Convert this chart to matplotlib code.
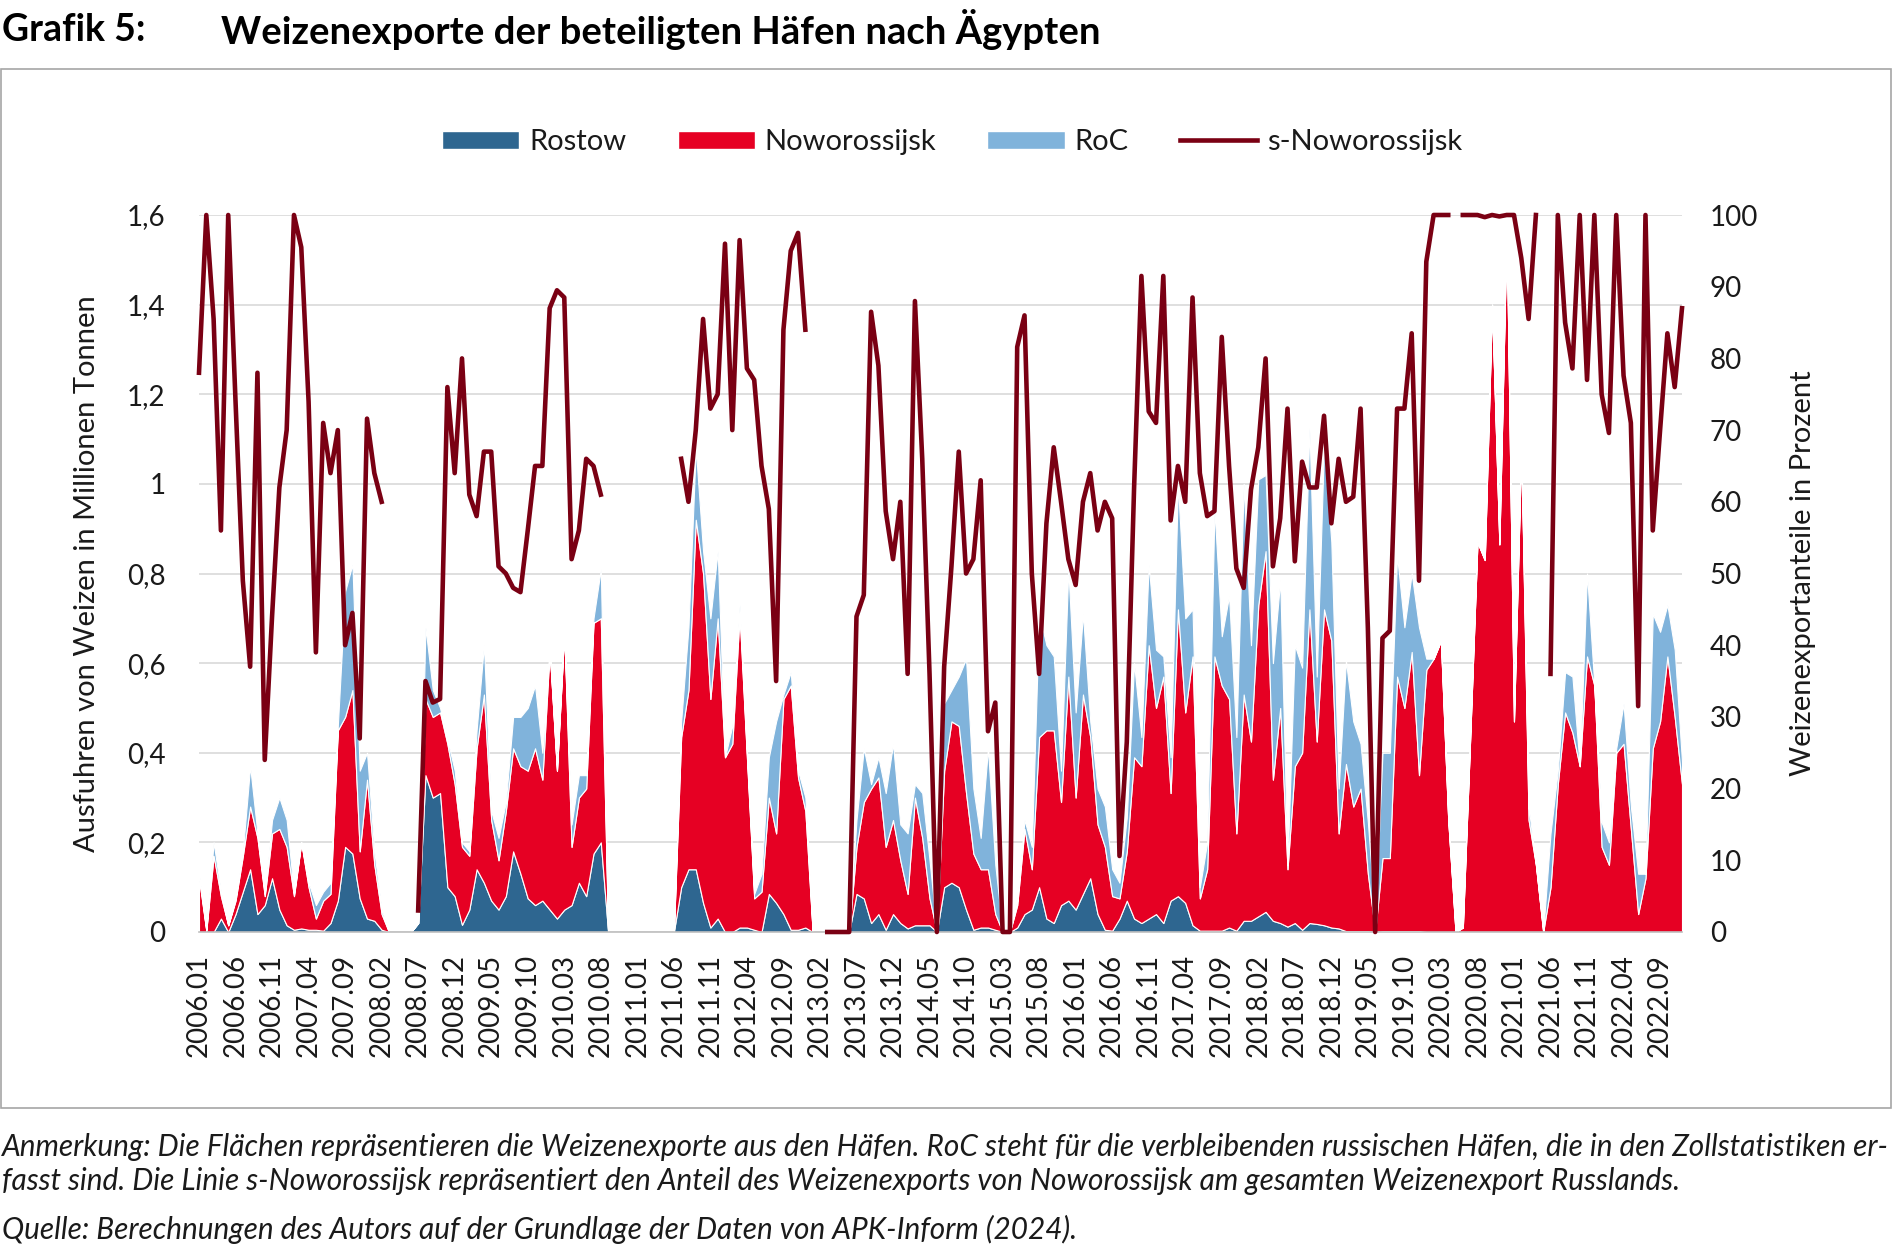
import numpy as np
import matplotlib
matplotlib.use("Agg")
import matplotlib.pyplot as plt
from matplotlib.patches import Patch, Rectangle
from matplotlib.lines import Line2D

nan = np.nan

# monthly values 2006.01 - 2022.12, one row per year (Mio. t)
rostow = [
    0, 0, 0, 0.03, 0, 0.04, 0.09, 0.14, 0.04, 0.06, 0.12, 0.05,
    0.015, 0.005, 0.008, 0.005, 0.005, 0.003, 0.02, 0.07, 0.19, 0.175, 0.075, 0.03,
    0.025, 0.005, 0, 0, 0, 0, 0.02, 0.35, 0.30, 0.31, 0.10, 0.08,
    0.016, 0.05, 0.14, 0.11, 0.07, 0.05, 0.08, 0.18, 0.13, 0.075, 0.06, 0.07,
    0.05, 0.03, 0.05, 0.06, 0.11, 0.08, 0.175, 0.20, 0, 0, 0, 0,
    0, 0, 0, 0, 0, 0, 0.10, 0.14, 0.14, 0.065, 0.01, 0.03,
    0, 0, 0.01, 0.01, 0.005, 0, 0.085, 0.065, 0.04, 0.005, 0.005, 0.01,
    0, 0, 0, 0.003, 0, 0, 0.085, 0.075, 0.02, 0.04, 0.005, 0.04,
    0.02, 0.008, 0.015, 0.015, 0.015, 0, 0.10, 0.11, 0.10, 0.05, 0.005, 0.01,
    0.01, 0.005, 0, 0, 0.01, 0.04, 0.05, 0.10, 0.03, 0.02, 0.06, 0.07,
    0.05, 0.085, 0.12, 0.04, 0.005, 0.003, 0.03, 0.07, 0.03, 0.02, 0.03, 0.04,
    0.02, 0.07, 0.08, 0.065, 0.015, 0.003, 0.003, 0.003, 0.003, 0.01, 0.003, 0.025,
    0.025, 0.035, 0.045, 0.025, 0.02, 0.012, 0.02, 0.005, 0.02, 0.018, 0.015, 0.01,
    0.008, 0.002, 0.002, 0.002, 0.002, 0, 0.002, 0.002, 0.002, 0.002, 0.002, 0.002,
    0, 0, 0, 0, 0, 0, 0, 0, 0, 0, 0, 0,
    0, 0, 0, 0, 0, 0, 0, 0, 0, 0, 0, 0,
    0, 0, 0, 0, 0, 0, 0, 0, 0, 0, 0, 0,
]

noworossijsk = [
    0.12, 0.003, 0.17, 0.05, 0.015, 0.03, 0.08, 0.14, 0.17, 0.02, 0.10, 0.18,
    0.175, 0.075, 0.192, 0.095, 0.025, 0.067, 0.065, 0.38, 0.29, 0.365, 0.105, 0.31,
    0.125, 0.035, 0, 0, 0, 0, 0, 0.17, 0.18, 0.18, 0.32, 0.25,
    0.174, 0.12, 0.27, 0.42, 0.18, 0.11, 0.19, 0.23, 0.24, 0.285, 0.35, 0.27,
    0.58, 0.33, 0.62, 0.13, 0.19, 0.24, 0.515, 0.50, 0, 0, 0, 0,
    0, 0, 0, 0, 0, 0, 0.335, 0.40, 0.78, 0.735, 0.51, 0.67,
    0.39, 0.42, 0.70, 0.38, 0.07, 0.09, 0.215, 0.155, 0.48, 0.545, 0.34, 0.26,
    0, 0, 0, 0, 0, 0, 0.105, 0.215, 0.30, 0.305, 0.185, 0.21,
    0.14, 0.077, 0.285, 0.195, 0.06, 0, 0.26, 0.36, 0.36, 0.26, 0.17, 0.13,
    0.13, 0.035, 0, 0, 0.05, 0.19, 0.09, 0.335, 0.42, 0.43, 0.23, 0.50,
    0.25, 0.445, 0.315, 0.20, 0.185, 0.077, 0.045, 0.11, 0.36, 0.35, 0.61, 0.46,
    0.55, 0.24, 0.64, 0.425, 0.60, 0.072, 0.137, 0.612, 0.547, 0.51, 0.217, 0.505,
    0.40, 0.695, 0.805, 0.315, 0.48, 0.128, 0.35, 0.395, 0.70, 0.407, 0.705, 0.64,
    0.212, 0.373, 0.278, 0.318, 0.128, 0, 0.163, 0.163, 0.568, 0.498, 0.623, 0.348,
    0.585, 0.61, 0.65, 0.25, 0, 0.01, 0.43, 0.87, 0.83, 1.40, 0.865, 1.57,
    0.47, 1.08, 0.25, 0.15, 0, 0.10, 0.33, 0.49, 0.445, 0.37, 0.615, 0.55,
    0.19, 0.15, 0.40, 0.42, 0.23, 0.04, 0.12, 0.41, 0.47, 0.615, 0.48, 0.33,
]

roc = [
    0.01, 0, 0.03, 0.01, 0, 0.005, 0.01, 0.09, 0.01, 0.005, 0.03, 0.07,
    0.06, 0.005, 0, 0.01, 0.03, 0.02, 0.025, 0.01, 0.28, 0.28, 0.18, 0.06,
    0.03, 0.01, 0, 0, 0, 0, 0, 0.16, 0.06, 0.01, 0.01, 0.03,
    0.01, 0.01, 0.04, 0.11, 0.02, 0.05, 0.02, 0.07, 0.11, 0.14, 0.14, 0.06,
    0, 0, 0, 0.05, 0.05, 0.03, 0.01, 0.11, 0, 0, 0, 0,
    0, 0, 0, 0, 0, 0, 0.035, 0.14, 0.16, 0.05, 0.18, 0.15,
    0, 0.04, 0.02, 0.01, 0.01, 0.04, 0.09, 0.25, 0.01, 0.03, 0.015, 0.03,
    0, 0, 0, 0, 0, 0, 0.06, 0.12, 0.01, 0.045, 0.12, 0.17,
    0.08, 0.135, 0.03, 0.10, 0.085, 0, 0.15, 0.07, 0.11, 0.30, 0.145, 0.07,
    0.27, 0.11, 0, 0, 0.01, 0.02, 0.05, 0.275, 0.19, 0.165, 0.07, 0.24,
    0.19, 0.18, 0.035, 0.08, 0.09, 0.06, 0.035, 0.075, 0.21, 0.065, 0.18, 0.13,
    0.045, 0.08, 0.28, 0.21, 0.105, 0.025, 0.06, 0.33, 0.11, 0.23, 0.215, 0.47,
    0.215, 0.28, 0.17, 0.26, 0.285, 0.01, 0.27, 0.19, 0.405, 0.145, 0.37, 0.22,
    0.10, 0.23, 0.19, 0.10, 0.115, 0.03, 0.235, 0.235, 0.27, 0.18, 0.175, 0.33,
    0.025, 0, 0, 0, 0, 0, 0, 0, 0, 0, 0, 0,
    0, 0, 0.03, 0, 0, 0.12, 0.03, 0.09, 0.125, 0, 0.185, 0,
    0.055, 0.05, 0.01, 0.09, 0.05, 0.09, 0.01, 0.30, 0.20, 0.115, 0.15, 0.05,
]

# share of Noworossijsk in total Russian wheat exports (%)
s_noworossijsk = [
    78, 100, 85.5, 56, 100, 74, 49, 37, 78, 24, 44, 62,
    70, 100, 95.5, 74, 39, 71, 64, 70, 40, 44.5, 27, 71.6,
    64, 60, nan, nan, nan, nan, 3, 35, 32, 32.5, 76, 64,
    80, 61, 58, 67, 67, 51, 50, 48, 47.4, 56, 65, 65,
    87, 89.5, 88.5, 52, 56, 66, 65, 61, nan, nan, nan, nan,
    nan, nan, nan, nan, nan, nan, 66, 60, 70, 85.5, 73, 75,
    96, 70, 96.5, 78.6, 77, 65, 59, 35, 84, 95, 97.5, 84,
    nan, nan, 0, 0, 0, 0, 44, 47, 86.5, 79, 58.7, 52,
    60, 36, 88, 66, 36, 0, 37, 51, 67, 50, 52, 63,
    28, 32, 0, 0, 81.6, 86, 50, 36, 57, 67.6, 60, 52,
    48.4, 60, 64, 56, 60, 57.7, 10.6, 26.5, 62, 91.5, 72.6, 71,
    91.5, 57.4, 65, 60, 88.5, 64, 58, 58.7, 83, 65, 50.7, 48,
    61.7, 67.6, 80, 51, 57.7, 73, 51.7, 65.6, 62, 62, 72, 57,
    66, 60, 60.7, 73, 42.4, 0, 41, 42, 73, 73, 83.5, 49,
    93.5, 100, 100, 100, nan, 100, 100, 100, 99.7, 100, 99.8, 100,
    100, 94, 85.5, 100, nan, 36, 100, 85, 78.6, 100, 77, 100,
    75, 69.6, 100, 77.6, 71, 31.5, 100, 56, 70, 83.5, 76, 87,
]

months = [f"{y}.{m:02d}" for y in range(2006, 2023) for m in range(1, 13)]

C_ROSTOW = "#2E6690"
C_NOWO = "#E60023"
C_ROC = "#80B3DB"
C_LINE = "#7A0013"
TXT = "#1A1A1A"

plt.rcParams['font.family'] = ['Lato', 'DejaVu Sans']

W, H = 1893, 1251
fig = plt.figure(figsize=(W / 100, H / 100), dpi=100)

left, right, top, bottom = 199, 1682, 215, 932
ax = fig.add_axes([left / W, 1 - bottom / H, (right - left) / W, (bottom - top) / H])

x = np.arange(len(months))
ax.stackplot(x, rostow, noworossijsk, roc, colors=[C_ROSTOW, C_NOWO, C_ROC],
             edgecolor="white", linewidth=0.8)
ax.set_xlim(0, len(months) - 1)
ax.set_ylim(0, 1.6)
yt = np.arange(0, 1.61, 0.2)
ax.set_yticks(yt)
ax.set_yticklabels([f"{v:g}".replace(".", ",") for v in np.round(yt, 1)])
ax.grid(axis="y", color="#D9D9D9", lw=1.2)
ax.set_axisbelow(True)
ax.set_xticks(x[::5])
ax.set_xticklabels(months[::5], rotation=90)
ax.tick_params(axis="x", length=0, pad=16, labelsize=20, labelcolor=TXT)
ax.tick_params(axis="y", length=0, pad=24, labelsize=20, labelcolor=TXT)
for s in ("top", "left", "right"):
    ax.spines[s].set_visible(False)
ax.spines["bottom"].set_color("#BFBFBF")
ax.spines["bottom"].set_linewidth(1.2)
ax.set_ylabel("Ausfuhren von Weizen in Millionen Tonnen", fontsize=21, color=TXT)
ax.yaxis.set_label_coords(-0.0668, 0.5)

ax2 = ax.twinx()
ax2.plot(x, s_noworossijsk, color=C_LINE, lw=3.3, clip_on=False)
ax2.set_ylim(0, 100)
ax2.set_yticks(np.arange(0, 101, 10))
ax2.tick_params(axis="y", length=0, pad=20, labelsize=20, labelcolor=TXT)
for s in ("top", "left", "right", "bottom"):
    ax2.spines[s].set_visible(False)
ax2.set_ylabel("Weizenexportanteile in Prozent", fontsize=21, color=TXT)
ax2.yaxis.set_label_coords(1.0728, 0.5)

handles = [Patch(facecolor=C_ROSTOW, edgecolor="white"),
           Patch(facecolor=C_NOWO, edgecolor="white"),
           Patch(facecolor=C_ROC, edgecolor="white"),
           Line2D([], [], color=C_LINE, lw=3.3)]
fig.legend(handles, ["Rostow", "Noworossijsk", "RoC", "s-Noworossijsk"],
           loc="center", bbox_to_anchor=(0.503, 1 - 142 / H), ncol=4, frameon=False,
           fontsize=21, handlelength=2.65, handleheight=0.58, handletextpad=0.34,
           columnspacing=1.75, labelcolor=TXT)

# frame around chart
fig.add_artist(Rectangle((1 / W, 1 - 1108 / H), 1890 / W, (1108 - 69) / H,
                         transform=fig.transFigure, fill=False,
                         edgecolor="#A6A6A6", lw=1.2))

fig.text(2 / W, 1 - 30 / H, "Grafik 5:", fontsize=27, fontweight="bold",
         va="center", color="black")
fig.text(221 / W, 1 - 30 / H, "Weizenexporte der beteiligten Häfen nach Ägypten",
         fontsize=27.5, fontweight="bold", va="center", color="black")

fig.text(2 / W, 1 - 1147 / H,
         "Anmerkung: Die Flächen repräsentieren die Weizenexporte aus den Häfen. "
         "RoC steht für die verbleibenden russischen Häfen, die in den Zollstatistiken er-",
         fontsize=21.4, style="italic", va="center", color=TXT)
fig.text(2 / W, 1 - 1181 / H,
         "fasst sind. Die Linie s-Noworossijsk repräsentiert den Anteil des Weizenexports "
         "von Noworossijsk am gesamten Weizenexport Russlands.",
         fontsize=21.4, style="italic", va="center", color=TXT)
fig.text(2 / W, 1 - 1229 / H,
         "Quelle: Berechnungen des Autors auf der Grundlage der Daten von APK-Inform (2024).",
         fontsize=21.4, style="italic", va="center", color=TXT)

fig.savefig("out.png", dpi=100)
